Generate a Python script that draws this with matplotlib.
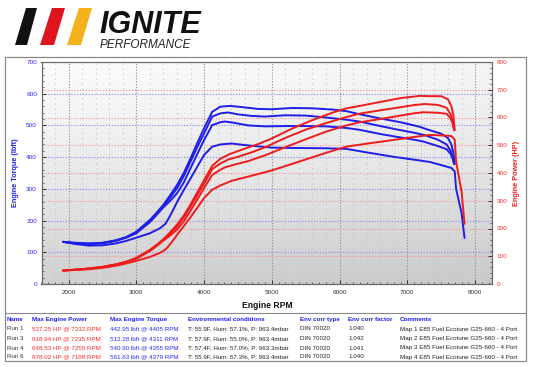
import matplotlib
matplotlib.use('Agg')
import matplotlib.pyplot as plt
import numpy as np
from matplotlib.patches import Polygon, Rectangle
from matplotlib.lines import Line2D
from matplotlib.ticker import MultipleLocator

# ---------------- data ----------------
run6_rpm = [1920, 2100, 2300, 2500, 2700, 2850, 3000, 3200, 3300, 3400, 3500, 3600, 3700, 3800, 3900, 4000, 4120,
            4240, 4380, 4550, 4800, 5000, 5300, 5600, 5900, 6100, 6300, 6600, 6900, 7100, 7188, 7300, 7500, 7600,
            7650, 7680, 7700]
run6_tq = [133, 130, 128, 130, 138, 148, 165, 202, 225, 250, 280, 312, 350, 396, 445, 491, 543,
           559, 561.6, 558, 552, 551, 555, 554, 550, 545, 535, 522, 510, 500, 495.4, 487, 474, 460,
           440, 415, 378]
run6_hp = [48.6, 52.0, 56.1, 61.9, 70.9, 80.3, 94.2, 123.1, 141.4, 161.8, 186.6, 213.9, 246.6, 286.5, 330.4, 374.0, 426.0,
           451.3, 468.4, 483.4, 504.5, 524.6, 560.1, 590.7, 617.9, 633.0, 641.8, 656.0, 670.0, 675.5, 678.0, 676.9, 676.9,
           665.6, 640.9, 606.9, 554.2]

run4_rpm = [1920, 2100, 2300, 2500, 2700, 2850, 3000, 3200, 3300, 3400, 3500, 3600, 3700, 3800, 3900, 4000, 4120,
            4240, 4355, 4500, 4700, 4900, 5200, 5500, 5800, 6100, 6300, 6600, 6900, 7100, 7255, 7450, 7580, 7640,
            7670, 7690]
run4_tq = [133, 129, 127, 129, 137, 147, 163, 198, 222, 246, 272, 302, 340, 386, 432, 475, 528,
           538, 540.9, 535, 530, 528, 532, 531, 525, 518, 512, 498, 485, 477, 469.5, 455, 440, 420,
           400, 382]
run4_hp = [48.6, 51.6, 55.6, 61.4, 70.4, 79.8, 93.1, 120.6, 139.5, 159.3, 181.3, 207.0, 239.5, 279.3, 320.8, 361.8, 414.2,
           434.3, 448.5, 458.4, 474.3, 492.6, 526.7, 556.1, 579.8, 601.6, 614.2, 625.8, 637.2, 644.8, 648.5, 645.4, 635.0,
           611.0, 584.2, 559.3]

run3_rpm = [1920, 2100, 2300, 2500, 2700, 2850, 3000, 3200, 3300, 3400, 3500, 3600, 3700, 3800, 3900, 4000, 4120,
            4240, 4311, 4450, 4650, 4900, 5200, 5500, 5800, 6100, 6300, 6600, 6900, 7100, 7235, 7450, 7580, 7640,
            7670, 7690]
run3_tq = [133, 128, 126, 128, 136, 146, 160, 195, 218, 242, 262, 286, 320, 365, 410, 454, 501,
           510, 512.3, 508, 500, 497, 498, 498, 497, 492, 486, 473, 462, 455, 449.3, 435, 425, 410,
           395, 378]
run3_hp = [48.6, 51.2, 55.2, 60.9, 69.9, 79.2, 91.4, 118.8, 137.0, 156.7, 174.6, 196.0, 225.4, 264.1, 304.5, 345.8, 393.0,
           411.7, 420.5, 430.4, 442.7, 463.7, 493.1, 521.5, 548.9, 571.4, 583.0, 594.4, 607.0, 615.1, 618.9, 617.1, 613.4,
           596.4, 576.9, 553.5]

run1_rpm = [1920, 2100, 2300, 2500, 2700, 2850, 3000, 3200, 3350, 3430, 3480, 3530, 3600, 3700, 3800, 3900, 4000,
            4120, 4240, 4405, 4650, 5000, 5300, 5800, 6100, 6400, 6800, 7100, 7332, 7550, 7650, 7700, 7720, 7760,
            7800, 7845]
run1_tq = [133, 126, 121, 122, 128, 136, 146, 160, 176, 190, 208, 228, 258, 296, 333, 370, 407,
           433, 440, 443, 437, 430, 429, 428, 426, 415, 401, 392, 384.8, 372, 366, 355, 300, 262,
           225, 145]
run1_hp = [48.6, 50.4, 53.0, 58.1, 65.8, 73.8, 83.4, 97.5, 112.3, 124.1, 137.8, 153.2, 176.8, 208.5, 240.9, 274.8, 310.0,
           339.7, 355.2, 371.6, 386.9, 409.4, 432.9, 472.7, 494.8, 505.7, 519.2, 529.9, 537.2, 534.8, 533.1, 520.5, 441.0,
           387.1, 334.2, 216.6]

x_ticks = [2000, 3000, 4000, 5000, 6000, 7000, 8000]
tq_ticks = [0, 100, 200, 300, 400, 500, 600, 700]
hp_ticks = [0, 100, 200, 300, 400, 500, 600, 700, 800]

table_header = ["Name", "Max Engine Power", "Max Engine Torque", "Environmental conditions",
                "Env corr type", "Env corr factor", "Comments"]
table_names = ["Run 1", "Run 3", "Run 4", "Run 6"]
table_power = ["537.25 HP @ 7332 RPM", "618.94 HP @ 7235 RPM", "648.53 HP @ 7255 RPM", "678.02 HP @ 7188 RPM"]
table_torque = ["442.95 lbft @ 4405 RPM", "512.28 lbft @ 4311 RPM", "540.90 lbft @ 4355 RPM", "561.63 lbft @ 4379 RPM"]
table_env = ["T: 55.9F, Hum: 57.1%, P: 963.4mbar", "T: 57.9F, Hum: 55.0%, P: 963.4mbar",
             "T: 57.4F, Hum: 57.0%, P: 963.3mbar", "T: 55.9F, Hum: 57.3%, P: 963.4mbar"]
table_corr_type = ["DIN 70020", "DIN 70020", "DIN 70020", "DIN 70020"]
table_corr_factor = ["1.040", "1.042", "1.041", "1.040"]
table_comments = ["Map 1 E85 Fuel Ecotune G25-660 - 4 Port", "Map 2 E85 Fuel Ecotune G25-660 - 4 Port",
                  "Map 3 E85 Fuel Ecotune G25-660 - 4 Port", "Map 4 E85 Fuel Ecotune G25-660 - 4 Port"]

# ---------------- figure ----------------
W, H = 533, 367
fig = plt.figure(figsize=(W / 100, H / 100), dpi=100)
fig.patch.set_facecolor('white')
FONT = ['Liberation Sans', 'DejaVu Sans']


def fx(x):
    return x / W


def fy(y):
    return 1 - y / H


BLUE = '#1e1ee8'
RED = '#ee1c1c'
TQ_MAX, HP_MAX = 700, 800

# frame around chart + table
fig.add_artist(Rectangle((fx(5), fy(361)), fx(526) - fx(5), fy(57) - fy(361), transform=fig.transFigure,
                         fill=False, edgecolor='#8a8a8a', lw=0.9))
fig.add_artist(Line2D([fx(5), fx(526)], [fy(313), fy(313)], transform=fig.transFigure, color='#8a8a8a', lw=0.8))

# logo
bars = [((26, 8), (37, 8), (27, 45), (15, 45), '#111111'),
        ((52, 8), (65, 8), (54, 45), (40, 45), '#e0141c'),
        ((79, 8), (92, 8), (81, 45), (67, 45), '#f2b21a')]
for a, b, c, d, col in bars:
    fig.add_artist(Polygon([(fx(a[0]), fy(a[1])), (fx(b[0]), fy(b[1])), (fx(c[0]), fy(c[1])), (fx(d[0]), fy(d[1]))],
                           closed=True, transform=fig.transFigure, facecolor=col, edgecolor='none'))
fig.text(fx(99), fy(33), "IGNITE", fontsize=22, fontweight='bold', fontstyle='italic', family=FONT,
         color='#111111', va='baseline', ha='left')
fig.text(fx(100), fy(48.5), "PERFORMANCE", fontsize=8.5, fontstyle='italic', family=FONT,
         color='#222222', va='baseline', ha='left')

# axes
ax = fig.add_axes([fx(41.5), fy(284), (492 - 41.5) / W, (284 - 62) / H])
ax2 = ax.twinx()

# gradient background (light at top, grey at bottom)
gy = np.linspace(0, 1, 200)[:, None]
gx = np.linspace(0, 1, 200)[None, :]
grad = 0.985 - 0.17 * gy ** 1.3 - 0.025 * gx
ax.imshow(np.dstack([grad, grad, grad]), extent=[0, 1, 0, 1], origin='upper', transform=ax.transAxes,
          aspect='auto', zorder=0, interpolation='bilinear')

ax.set_xlim(1600, 8250)
ax.set_ylim(0, TQ_MAX)
ax2.set_ylim(0, HP_MAX)

# grids
for v in range(1800, 8250, 200):
    if v % 1000 == 0:
        ax.axvline(v, color='#8c8c8c', lw=0.8, ls=(0, (1, 1.6)), zorder=1)
    else:
        ax.axvline(v, color='#c4c4c4', lw=0.8, ls=(0, (1, 3.5)), zorder=1)
for t in tq_ticks[1:-1]:
    ax.axhline(t, color='#8080ff', lw=0.8, ls=(0, (1, 1.6)), zorder=1)
for p in hp_ticks[1:-1]:
    ax.axhline(p * TQ_MAX / HP_MAX, color='#ff8c8c', lw=0.8, ls=(0, (1, 1.6)), zorder=1)

# curves
lw = 1.4
for r, t in [(run1_rpm, run1_tq), (run3_rpm, run3_tq), (run4_rpm, run4_tq), (run6_rpm, run6_tq)]:
    ax.plot(r, t, color=BLUE, lw=lw, zorder=3, solid_joinstyle='round', solid_capstyle='round')
for r, p in [(run1_rpm, run1_hp), (run3_rpm, run3_hp), (run4_rpm, run4_hp), (run6_rpm, run6_hp)]:
    ax2.plot(r, p, color=RED, lw=lw, zorder=3, solid_joinstyle='round', solid_capstyle='round')

# ticks
ax.set_xticks(x_ticks)
ax.xaxis.set_minor_locator(MultipleLocator(100))
ax.set_yticks(tq_ticks)
ax.yaxis.set_minor_locator(MultipleLocator(20))
ax2.set_yticks(hp_ticks)
ax2.yaxis.set_minor_locator(MultipleLocator(20))

ax.tick_params(axis='x', which='major', direction='in', length=3, width=0.7, color='#333333',
               labelsize=4.6, labelcolor='#333333', pad=4.2)
ax.tick_params(axis='x', which='minor', direction='in', length=1.6, width=0.5, color='#333333')
ax.tick_params(axis='y', which='major', direction='in', length=3, width=0.7, color='#333333',
               labelsize=4.6, labelcolor='#2a2aff', pad=3.2)
ax.tick_params(axis='y', which='minor', direction='in', length=1.6, width=0.5, color='#333333')
ax2.tick_params(axis='y', which='major', direction='in', length=3, width=0.7, color='#333333',
                labelsize=4.6, labelcolor='#ff3030', pad=3.2)
ax2.tick_params(axis='y', which='minor', direction='in', length=1.6, width=0.5, color='#333333')
for a in (ax, ax2):
    for lab in a.get_xticklabels() + a.get_yticklabels():
        lab.set_family(FONT)
    for s in a.spines.values():
        s.set_color('#6a6a6a')
        s.set_linewidth(0.8)

# axis titles
fig.text(fx(15.5), fy(173), "Engine Torque (lbft)", rotation=90, color=BLUE, fontsize=5.2,
         fontweight='bold', family=FONT, ha='center', va='center')
fig.text(fx(517), fy(173), "Engine Power (HP)", rotation=90, color=RED, fontsize=5.2,
         fontweight='bold', family=FONT, ha='center', va='center')
fig.text(fx(267), fy(305.5), "Engine RPM", color='#111111', fontsize=6.2,
         fontweight='bold', family=FONT, ha='center', va='center')

# table
col_x = [7, 32, 110, 188, 300, 348, 400]
row_y = [329, 338.5, 348, 357]
TFS = 4.5
for x, h in zip(col_x, table_header):
    fig.text(fx(x), fy(319.5), h, color='#2020ff', fontsize=TFS, fontweight='bold', family=FONT,
             ha='left', va='center')
for i, y in enumerate(row_y):
    cells = [(table_names[i], '#333333'), (table_power[i], '#ff2a2a'), (table_torque[i], '#2a2aff'),
             (table_env[i], '#222222'), (table_corr_type[i], '#222222'), (table_corr_factor[i], '#222222'),
             (table_comments[i], '#222222')]
    for x, (s, c) in zip(col_x, cells):
        fig.text(fx(x), fy(y), s, color=c, fontsize=TFS, family=FONT, ha='left', va='center')

fig.savefig('out.png', dpi=100, facecolor='white')
